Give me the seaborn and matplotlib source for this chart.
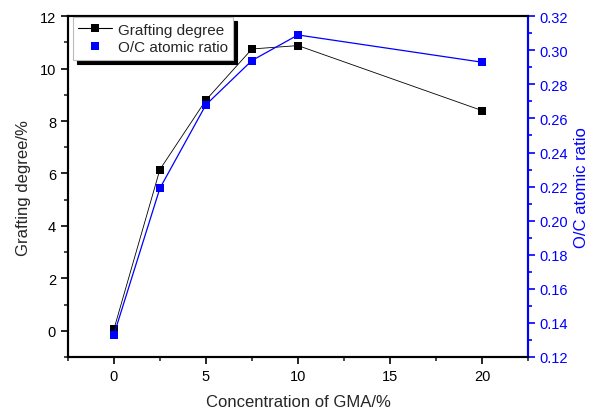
import matplotlib
matplotlib.use("Agg")
import matplotlib.pyplot as plt
from matplotlib.ticker import MultipleLocator, FormatStrFormatter
from matplotlib.lines import Line2D
import seaborn as sns
import pandas as pd

gma_conc = [0, 2.5, 5, 7.5, 10, 20]
grafting_degree = [0.05, 6.15, 8.8, 10.75, 10.88, 8.4]
oc_ratio = [0.133, 0.219, 0.268, 0.294, 0.309, 0.293]

df = pd.DataFrame({"conc": gma_conc, "graft": grafting_degree, "oc": oc_ratio})

sns.set_style("ticks")
plt.rcParams["font.family"] = ["Liberation Sans", "DejaVu Sans"]
plt.rcParams["font.size"] = 11

blue = "#0000ff"
fig, ax = plt.subplots(figsize=(5.9, 4.1), dpi=100)
fig.subplots_adjust(left=0.115, right=0.895, top=0.958, bottom=0.127)
ax2 = ax.twinx()

sns.lineplot(data=df, x="conc", y="graft", ax=ax, color="black", marker="s",
             markersize=5.5, markeredgewidth=0, linewidth=0.6, legend=False)
sns.lineplot(data=df, x="conc", y="oc", ax=ax2, color=blue, marker="s",
             markersize=5.5, markeredgewidth=0, linewidth=0.9, legend=False)

ax.set_xlim(-2.5, 22.5)
ax.set_ylim(-1, 12)
ax2.set_ylim(0.12, 0.32)

ax.xaxis.set_major_locator(MultipleLocator(5))
ax.xaxis.set_minor_locator(MultipleLocator(2.5))
ax.yaxis.set_major_locator(MultipleLocator(2))
ax.yaxis.set_minor_locator(MultipleLocator(1))
ax2.yaxis.set_major_locator(MultipleLocator(0.02))
ax2.yaxis.set_minor_locator(MultipleLocator(0.01))
ax2.yaxis.set_major_formatter(FormatStrFormatter("%.2f"))

for a in (ax, ax2):
    for s in a.spines.values():
        s.set_linewidth(1.5)
        s.set_color("black")
ax2.spines["right"].set_color(blue)

ax.tick_params(axis="both", which="major", direction="out", length=5, width=1.2,
               labelsize=10.5, colors="black")
ax.tick_params(axis="both", which="minor", direction="out", length=3, width=1.2)
ax2.tick_params(axis="y", which="major", direction="out", length=5, width=1.2,
                labelsize=10.5, colors=blue)
ax2.tick_params(axis="y", which="minor", direction="out", length=3, width=1.2,
                colors=blue)

ax.set_xlabel("Concentration of GMA/%", fontsize=12, labelpad=8)
ax.set_ylabel("Grafting degree/%", fontsize=12, labelpad=6)
ax2.set_ylabel("O/C atomic ratio", fontsize=12, color=blue, labelpad=4)

handles = [
    Line2D([], [], color="black", linewidth=0.8, marker="s", markersize=5.5,
           markeredgewidth=0),
    Line2D([], [], color="none", marker="s", markersize=5.5, markeredgewidth=0,
           markerfacecolor=blue),
]
labels = ["Grafting degree", "O/C atomic ratio"]
leg = ax2.legend(handles, labels, loc="upper left", bbox_to_anchor=(0.011, 0.997),
                 borderaxespad=0, frameon=True, fancybox=False, fontsize=11,
                 handlelength=2.2, borderpad=0.35, labelspacing=0.25,
                 handletextpad=0.4,
                 shadow={"color": "black", "alpha": 1, "ox": 3, "oy": -3})
leg.get_frame().set_edgecolor("#bbbbbb")
leg.get_frame().set_linewidth(0.8)

fig.savefig("out.png", dpi=100)
